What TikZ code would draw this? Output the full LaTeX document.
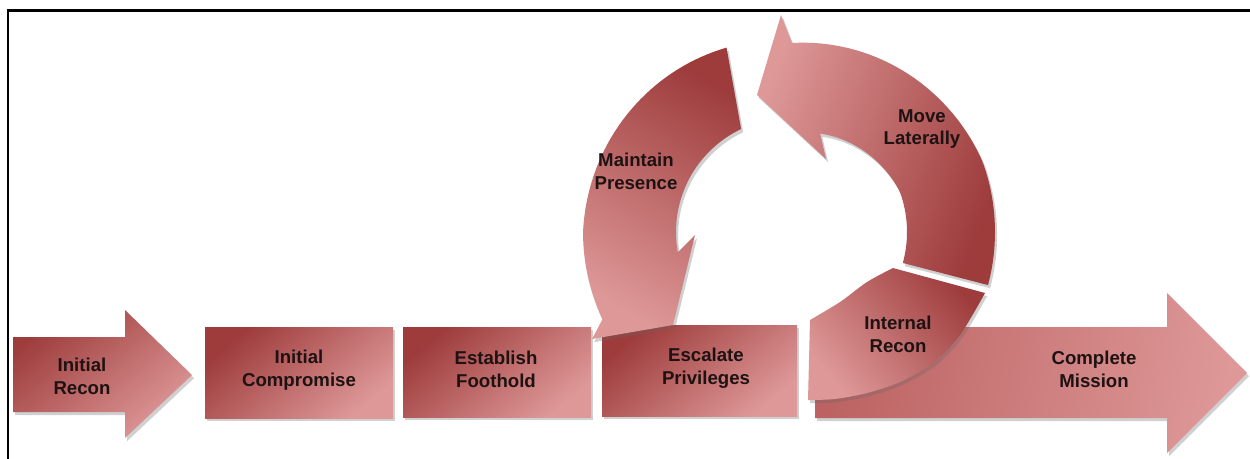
\documentclass[tikz,border=0pt]{standalone}
\usepackage{fontspec}
\setmainfont{Liberation Sans}
\usetikzlibrary{shadows}
\definecolor{rdark}{RGB}{158,60,60}
\definecolor{rmid}{RGB}{188,98,98}
\definecolor{rlight}{RGB}{222,152,152}
\definecolor{txt}{RGB}{30,18,18}
\begin{document}
\begin{tikzpicture}[x=0.02cm,y=-0.02cm,
  lbl/.style={font=\bfseries\fontsize{10.6}{13}\selectfont, text=txt, align=center},
  shd/.style={drop shadow={shadow xshift=1.2pt,shadow yshift=-1.8pt,opacity=0.3,fill=black!60}},
  boxsh/.style={shd, top color=rdark, bottom color=rlight, shading angle=40},
]
\useasboundingbox (0,0) rectangle (1250,458);
\fill[white] (0,0) rectangle (1250,458);
\draw[line width=1.7pt] (8,470) -- (8,10) -- (1260,10);

% Initial Recon arrow
\shade[boxsh] (13,337) -- (125,337) -- (125,310) -- (192,375) -- (125,438) -- (125,412) -- (13,412) -- cycle;
% boxes
\shade[boxsh] (205,327) rectangle (393,418);
\shade[boxsh] (403,327) rectangle (591,417);
\shade[boxsh] (602,325) rectangle (797,416);
% Complete Mission arrow
\shade[shd, left color=rmid, right color=rlight, shading angle=80]
  (815,327) -- (1167,327) -- (1167,293) -- (1247,373) -- (1167,453) -- (1167,418) -- (815,418) -- cycle;
% Internal Recon
\shade[shd, top color=rdark, bottom color=rlight, shading angle=-50]
  (810,320) -- plot[smooth] coordinates {(810,320) (840,302) (867,282) (893,268)} -- (985,293)
  -- plot[smooth] coordinates {(985,293) (960,335) (933,363) (900,382) (867,393) (835,399) (808,400)} -- cycle;
% Move Laterally
\shade[shd, left color=rlight, right color=rdark, shading angle=70]
  (903,263) -- plot[domain=15:-89.4, samples=50, variable=\t]
     ({790+(205-16*max(0,(-20-\t)/69.4))*cos(\t)}, {232+(205-16*max(0,(-20-\t)/69.4))*sin(\t)})
  -- (781,15) -- (757,95) -- (826,159) -- (820,133)
  -- plot[domain=-73:15, samples=40, variable=\t]
     ({790+(117-14*max(0,(-20-\t)/53))*cos(\t)}, {232+(117-14*max(0,(-20-\t)/53))*sin(\t)})
  -- cycle;
% Maintain Presence
\shade[shd, top color=rdark, bottom color=rlight, shading angle=-30]
  plot[domain=251:155, samples=50, variable=\t]
     ({790+(207-12*max(0,(\t-180)/71))*cos(\t)}, {232+(207-12*max(0,(\t-180)/71))*sin(\t)})
  -- (592,339) -- (673,325) -- (695,235) -- (678,252)
  -- plot[domain=170:244.6, samples=40, variable=\t] ({790+114*cos(\t)}, {232+114*sin(\t)})
  -- cycle;

% labels
\node[lbl] (n1) at (82,376) {Initial\\Recon};
\node[lbl] (n2) at (299,370) {Initial\\Compromise};
\node[lbl] (n3) at (496,369) {Establish\\Foothold};
\node[lbl] (n4) at (706,368) {Escalate\\Privileges};
\node[lbl] (n5) at (1094,369) {Complete\\Mission};
\node[lbl] (n6) at (898,334) {Internal\\Recon};
\node[lbl] (n7) at (922,129) {Move\\Laterally};
\node[lbl] (n8) at (636,171) {Maintain\\Presence};
\end{tikzpicture}
\end{document}
